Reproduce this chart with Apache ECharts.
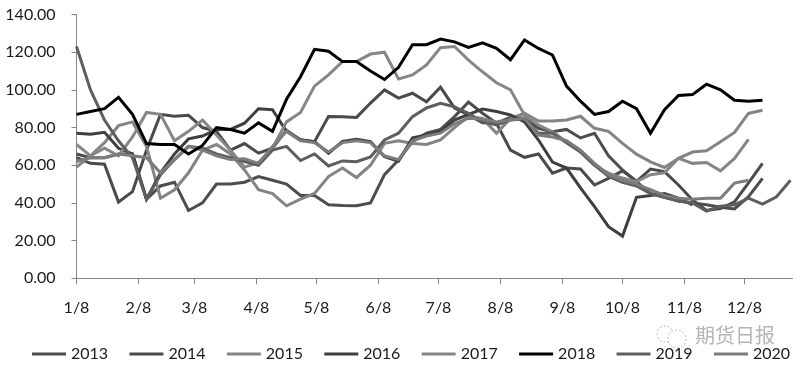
<!DOCTYPE html>
<html><head><meta charset="utf-8">
<style>html,body{margin:0;padding:0;background:#fff}#c{width:800px;height:372px}</style>
<script src="https://cdn.jsdelivr.net/npm/echarts@6/dist/echarts.min.js"></script>
</head><body><div id="c"></div>
<script>
const tickLabels=['1/8','2/8','3/8','4/8','5/8','6/8','7/8','8/8','9/8','10/8','11/8','12/8'];
const tickDays=[0,31,59,90,120,151,181,212,243,273,304,334];
const daysPerPoint=7;
const years=['2013','2014','2015','2016','2017','2018','2019','2020'];
const v2013=[66,64,64,66,66,42,49,51,36,40,50,50,51,54,52,50,44,44,39,38.6,38.5,40,55,62.8,72.5,77,79,85.8,93.5,87.6,82.3,85.5,85,79.6,77.8,79,74.5,77,65,57.5,51.3,45,43,41,40,39,37.7,36.8,43.3,53];
const v2014=[64,61,60.5,40.5,46,68,87,86,86.5,80,78,68,71.5,66.4,69,78.6,73.4,72.5,85.8,85.7,85.4,93,100,95.6,98.2,93.7,101.4,90.4,86.7,82.6,82.3,68,64.2,66,55.8,58.5,58,49.5,53,57,51.5,58,56.6,49.5,41.6,36,37,40.6,50.6,61];
const v2015=[59,65,72,81,83,70,42.5,47,56,68,71,66,57.5,47,45,38.5,42,45,54,58.5,53.5,60,71.6,73,71.5,71,73.5,80,85.8,84.8,76.9,84.8,87.6,83.5,83.5,84,86,79.6,78,71.6,65.9,61.8,58.8,63.7,67,67.7,72.5,77.4,87.5,89.2];
const v2016=[77,76.5,77.5,69,66,42,56,66,74,75.5,79,79,82.3,90,89.5,78,73.5,72.5,66.4,72.7,73.8,72.5,64.5,62.2,74.5,76,78,84,87,89.8,88.5,86.7,83,73.4,61.7,58.5,48,38,27.4,22.4,43,44,45,42.5,39];
const v2017=[71,65,69,65,75,88,87,73,78,84,76,68,59,61.4,69,83,88,102,108,115,115,119,120,105.8,107.9,113.2,122.4,123,115.8,109.6,103.8,100,86.7,81.3,77.8,72.5,67.2,60,55.8,53.2,51.3,55,56,63.7,61,61.5,57,63.6,73.7];
const v2018=[87,88.5,90,96,87,71.5,71,71,66,70.5,80,79,77,82.5,78,95,107,121.5,120.5,115,115,110,105.5,112,124,124,127,125.5,122.5,125,122,116,126.5,122,118.5,102,94,87,88.5,94,90,77,89.5,97,97.5,103,100,94.5,94,94.5];
const v2019=[123,100,84,73,64,42,55,63,70,69,66,64,62,60,68,70,62.5,66,59.6,62.3,61.9,64.4,73.4,77,85.8,90.4,92.9,91,87.6,83,81.4,84,84.5,77,77,72,67,60,54,51,49,45,43,41,40,35.7,38.3,39,42.5,39.4,43.3,52];
const v2020=[62,64,64,66,65,64,56,63,70,68,65,63,63.5,61,70,78,73,72,67,72,73,72,65,63,73,75.5,77,82,85,84.5,83,84,85,76,75,73,68,61,55,52,50,47,44,42.5,42,42.5,42.5,50.5,52];
const allValues=[v2013,v2014,v2015,v2016,v2017,v2018,v2019,v2020];
const colors=['#4d4d4d','#4a4a4a','#848484','#3f3f3f','#868686','#000000','#5e5e5e','#7c7c7c'];
const drawOrder=[0,1,2,3,4,6,7,5];
const font='Lato';
const series=years.map((y,k)=>({
  name:y,type:'line',showSymbol:false,symbol:'none',smooth:false,
  z:2+drawOrder.indexOf(k),
  lineStyle:{width:3,color:colors[k],join:'miter'},
  itemStyle:{color:colors[k]},
  data:allValues[k].map((v,i)=>[i*daysPerPoint,v])
}));
const chart=echarts.init(document.getElementById('c'),null,{renderer:'canvas'});
chart.setOption({
  animation:false,backgroundColor:'#ffffff',
  grid:{left:76.5,right:7.5,top:14.5,bottom:93.7,containLabel:false},
  legend:{data:years,left:32,top:346,width:780,padding:0,icon:'rect',itemWidth:34,itemHeight:3,itemGap:21.3,
    textStyle:{fontFamily:font,fontSize:16,color:'#1a1a1a'}},
  xAxis:{type:'value',min:0,max:358,
    splitLine:{show:false},
    axisLine:{lineStyle:{color:'#868686',width:1}},
    axisTick:{show:true,length:6,lineStyle:{color:'#868686'},customValues:tickDays},
    axisLabel:{customValues:tickDays,margin:22,fontFamily:font,fontSize:16,color:'#1a1a1a',hideOverlap:false,
      showMinLabel:true,
      formatter:v=>tickLabels[tickDays.indexOf(v)]}},
  yAxis:{type:'value',min:0,max:140,interval:20,
    splitLine:{show:false},
    axisLine:{show:true,lineStyle:{color:'#868686',width:1}},
    axisTick:{show:true,length:5,lineStyle:{color:'#868686'}},
    axisLabel:{margin:21,fontFamily:font,fontSize:16,color:'#1a1a1a',formatter:v=>v.toFixed(2)}},
  graphic:[
    {type:'text',left:695,top:325,silent:true,style:{text:'期货日报',fontFamily:'Noto Sans CJK SC',fontSize:20,fill:'#a8a8a8',opacity:0.85}},
    {type:'circle',shape:{cx:665,cy:334,r:8},style:{fill:'none',stroke:'#b5b5b5',lineWidth:1,lineDash:[2,2]}},
    {type:'circle',shape:{cx:677,cy:339,r:9},style:{fill:'#fff',stroke:'#b5b5b5',lineWidth:1,lineDash:[2,2]}}
  ],
  series
});
</script></body></html>
